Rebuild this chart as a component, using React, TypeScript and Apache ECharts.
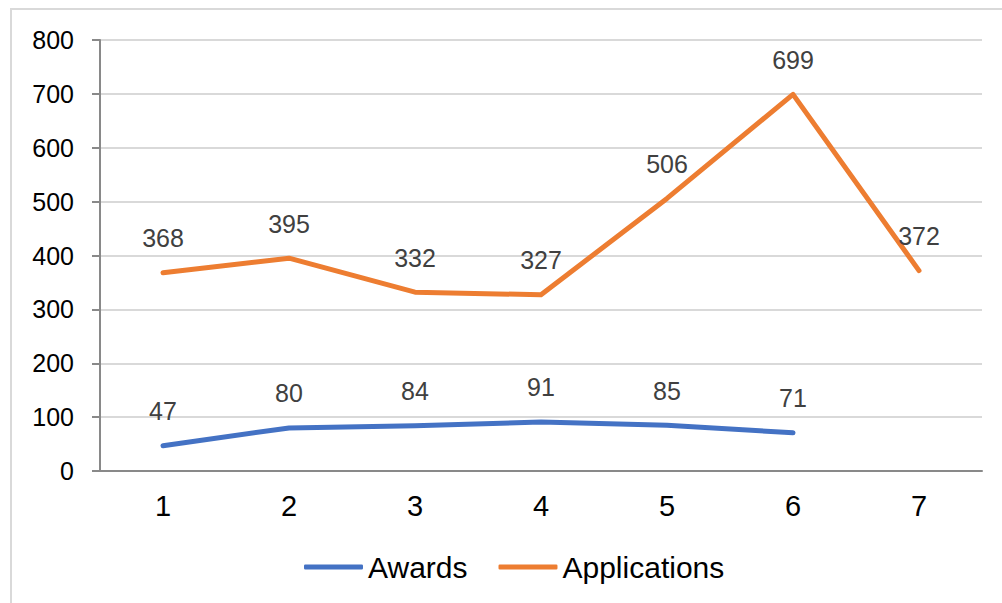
import React, { useEffect, useRef } from "react";
import * as echarts from "echarts";

const categories = ["1", "2", "3", "4", "5", "6", "7"];
const awards = [47, 80, 84, 91, 85, 71, null];
const applications = [368, 395, 332, 327, 506, 699, 372];
const yTicks = { min: 0, max: 800, interval: 100 };

const FONT = "'Liberation Sans', Arial, sans-serif";

export default function App() {
  const ref = useRef<HTMLDivElement>(null);

  useEffect(() => {
    if (!ref.current) return;
    const chart = echarts.init(ref.current, null, { renderer: "svg" });
    const makeLabel = () => ({
      show: true,
      position: "top",
      distance: 22,
      fontFamily: FONT,
      fontSize: 25,
      color: "#404040",
    });
    chart.setOption({
      animation: false,
      backgroundColor: "#ffffff",
      graphic: [
        {
          type: "rect",
          shape: { x: 11, y: 9, width: 1200, height: 800 },
          style: { fill: "none", stroke: "#d9d9d9", lineWidth: 2 },
          silent: true,
        },
      ],
      grid: { left: 100, right: 20, top: 40, bottom: 132 },
      legend: {
        left: 299,
        top: 547,
        itemWidth: 59,
        itemHeight: 5,
        itemGap: 31,
        icon: "roundRect",
        textStyle: { fontFamily: FONT, fontSize: 30, color: "#000000" },
        data: ["Awards", "Applications"],
      },
      xAxis: {
        type: "category",
        data: categories,
        boundaryGap: true,
        axisLine: { lineStyle: { color: "#898989", width: 2 } },
        axisTick: { show: false },
        axisLabel: { fontFamily: FONT, fontSize: 29, color: "#000000", margin: 20 },
      },
      yAxis: {
        type: "value",
        min: yTicks.min,
        max: yTicks.max,
        interval: yTicks.interval,
        axisLine: { show: true, lineStyle: { color: "#898989", width: 2 } },
        axisTick: { show: true, length: 8, lineStyle: { color: "#898989", width: 2 } },
        splitLine: { lineStyle: { color: "#d9d9d9", width: 2 } },
        axisLabel: { fontFamily: FONT, fontSize: 25, color: "#000000", margin: 26 },
      },
      series: [
        {
          name: "Awards",
          type: "line",
          data: awards,
          symbol: "circle",
          symbolSize: 0,
          showSymbol: true,
          color: "#4472C4",
          lineStyle: { width: 5, cap: "round", join: "round" },
          label: makeLabel(),
        },
        {
          name: "Applications",
          type: "line",
          data: applications,
          symbol: "circle",
          symbolSize: 0,
          showSymbol: true,
          color: "#ED7D31",
          lineStyle: { width: 5, cap: "round", join: "round" },
          label: makeLabel(),
        },
      ],
    });
    return () => chart.dispose();
  }, []);

  return (
    <div
      ref={ref}
      style={{ position: "fixed", left: 0, top: 0, width: 1002, height: 603 }}
    />
  );
}
